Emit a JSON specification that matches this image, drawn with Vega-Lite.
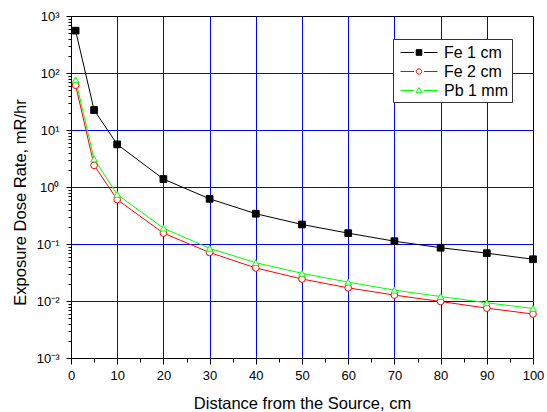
{
  "$schema": "https://vega.github.io/schema/vega-lite/v6.json",
  "width": 462,
  "height": 342,
  "autosize": {"type": "none"},
  "padding": {"left": 71, "top": 16, "right": 14, "bottom": 54},
  "background": "white",
  "config": {
    "font": "Liberation Sans",
    "view": {"stroke": "black", "strokeWidth": 1},
    "axis": {"domainColor": "black", "tickColor": "black", "labelColor": "black", "titleColor": "black", "titleFontWeight": "normal", "gridColor": "#0000ff", "gridWidth": 1}
  },
  "data": {"values": [
    {"x": 1, "y": 553, "series": "Fe 1 cm"},
    {"x": 5, "y": 22.4, "series": "Fe 1 cm"},
    {"x": 10, "y": 5.6, "series": "Fe 1 cm"},
    {"x": 20, "y": 1.38, "series": "Fe 1 cm"},
    {"x": 30, "y": 0.62, "series": "Fe 1 cm"},
    {"x": 40, "y": 0.34, "series": "Fe 1 cm"},
    {"x": 50, "y": 0.22, "series": "Fe 1 cm"},
    {"x": 60, "y": 0.155, "series": "Fe 1 cm"},
    {"x": 70, "y": 0.112, "series": "Fe 1 cm"},
    {"x": 80, "y": 0.086, "series": "Fe 1 cm"},
    {"x": 90, "y": 0.069, "series": "Fe 1 cm"},
    {"x": 100, "y": 0.054, "series": "Fe 1 cm"},
    {"x": 1, "y": 61, "series": "Fe 2 cm"},
    {"x": 5, "y": 2.4, "series": "Fe 2 cm"},
    {"x": 10, "y": 0.6, "series": "Fe 2 cm"},
    {"x": 20, "y": 0.155, "series": "Fe 2 cm"},
    {"x": 30, "y": 0.071, "series": "Fe 2 cm"},
    {"x": 40, "y": 0.038, "series": "Fe 2 cm"},
    {"x": 50, "y": 0.0243, "series": "Fe 2 cm"},
    {"x": 60, "y": 0.017, "series": "Fe 2 cm"},
    {"x": 70, "y": 0.0127, "series": "Fe 2 cm"},
    {"x": 80, "y": 0.0098, "series": "Fe 2 cm"},
    {"x": 90, "y": 0.0075, "series": "Fe 2 cm"},
    {"x": 100, "y": 0.0059, "series": "Fe 2 cm"},
    {"x": 1, "y": 76, "series": "Pb 1 mm"},
    {"x": 5, "y": 3.1, "series": "Pb 1 mm"},
    {"x": 10, "y": 0.74, "series": "Pb 1 mm"},
    {"x": 20, "y": 0.19, "series": "Pb 1 mm"},
    {"x": 30, "y": 0.084, "series": "Pb 1 mm"},
    {"x": 40, "y": 0.047, "series": "Pb 1 mm"},
    {"x": 50, "y": 0.0306, "series": "Pb 1 mm"},
    {"x": 60, "y": 0.0214, "series": "Pb 1 mm"},
    {"x": 70, "y": 0.0155, "series": "Pb 1 mm"},
    {"x": 80, "y": 0.012, "series": "Pb 1 mm"},
    {"x": 90, "y": 0.0093, "series": "Pb 1 mm"},
    {"x": 100, "y": 0.0074, "series": "Pb 1 mm"}
  ]},
  "encoding": {
    "x": {
      "field": "x", "type": "quantitative",
      "scale": {"domain": [0, 100], "nice": false, "zero": false},
      "axis": {
        "title": "Distance from the Source, cm",
        "titleFontSize": 16.5, "titleX": 231, "titleY": 50, "titleBaseline": "alphabetic", "titleAnchor": null,
        "values": [0, 5, 10, 15, 20, 25, 30, 35, 40, 45, 50, 55, 60, 65, 70, 75, 80, 85, 90, 95, 100],
        "labelExpr": "datum.value % 10 == 0 ? datum.label : ''",
        "labelFontSize": 13, "labelPadding": 5, "labelFlush": false, "labelOverlap": false,
        "tickSize": {"condition": {"test": "datum.value % 10 == 0", "value": 6}, "value": 4},
        "grid": true,
        "gridOpacity": {"condition": {"test": "datum.value % 10 == 0 && datum.value > 0 && datum.value < 100", "value": 1}, "value": 0}
      }
    },
    "y": {
      "field": "y", "type": "quantitative",
      "scale": {"type": "log", "domain": [0.001, 1000], "nice": false},
      "axis": {
        "title": "Exposure Dose Rate, mR/hr",
        "titleFontSize": 16.5, "titleX": -46, "titleY": 186, "titleBaseline": "alphabetic", "titleAngle": -90, "titleAnchor": null,
        "values": [0.001, 0.002, 0.003, 0.004, 0.005, 0.006, 0.007, 0.008, 0.009, 0.01, 0.02, 0.03, 0.04, 0.05, 0.06, 0.07, 0.08, 0.09, 0.1, 0.2, 0.3, 0.4, 0.5, 0.6, 0.7, 0.8, 0.9, 1, 2, 3, 4, 5, 6, 7, 8, 9, 10, 20, 30, 40, 50, 60, 70, 80, 90, 100, 200, 300, 400, 500, 600, 700, 800, 900, 1000],
        "labelExpr": "abs(log(datum.value)/LN10 - round(log(datum.value)/LN10)) > 0.001 ? '' : ['10⁻³','10⁻²','10⁻¹','10⁰','10¹','10²','10³'][round(log(datum.value)/LN10) + 3]",
        "labelFontSize": 13, "labelPadding": 7, "labelOverlap": false, "labelBound": false, "labelFlush": false,
        "tickSize": {"condition": {"test": "abs(log(datum.value)/LN10 - round(log(datum.value)/LN10)) < 0.001", "value": 5}, "value": 3},
        "grid": true,
        "gridOpacity": {"condition": {"test": "abs(log(datum.value)/LN10 - round(log(datum.value)/LN10)) < 0.001 && datum.value > 0.0015 && datum.value < 900", "value": 1}, "value": 0}
      }
    }
  },
  "layer": [
    {
      "mark": {"type": "line", "strokeWidth": 1},
      "encoding": {
        "color": {"field": "series", "type": "nominal", "legend": null,
          "scale": {"domain": ["Fe 1 cm", "Fe 2 cm", "Pb 1 mm"], "range": ["#000000", "#ff0000", "#00ff00"]}}
      }
    },
    {
      "mark": {"type": "point", "size": 45, "strokeWidth": 1, "opacity": 1},
      "encoding": {
        "color": {"field": "series", "type": "nominal", "legend": null,
          "scale": {"domain": ["Fe 1 cm", "Fe 2 cm", "Pb 1 mm"], "range": ["#000000", "#ff0000", "#00ff00"]}},
        "shape": {"field": "series", "type": "nominal", "legend": null,
          "scale": {"domain": ["Fe 1 cm", "Fe 2 cm", "Pb 1 mm"], "range": ["square", "circle", "triangle-up"]}},
        "fill": {"field": "series", "type": "nominal", "legend": null,
          "scale": {"domain": ["Fe 1 cm", "Fe 2 cm", "Pb 1 mm"], "range": ["#000000", "#ffffff", "#ffffff"]}}
      }
    },
    {
      "mark": {"type": "point", "size": 45, "strokeWidth": 1, "opacity": 0},
      "encoding": {
        "color": {"field": "series", "type": "nominal",
          "scale": {"domain": ["Fe 1 cm", "Fe 2 cm", "Pb 1 mm"], "range": ["#000000", "#ff0000", "#00ff00"]},
          "legend": {
            "title": null,
            "orient": "none", "legendX": 322, "legendY": 23,
            "padding": 3, "symbolOffset": 12.5, "labelOffset": 14.5,
            "labelFontSize": 16, "labelColor": "black",
            "labelExpr": "datum.label + '\u00a0\u00a0\u00a0'",
            "symbolSize": 400, "symbolStrokeWidth": 1, "symbolOpacity": 1,
            "rowPadding": 0,
            "fillColor": "white", "strokeColor": "#333333",
            "cornerRadius": 0
          }},
        "shape": {"field": "series", "type": "nominal",
          "scale": {"domain": ["Fe 1 cm", "Fe 2 cm", "Pb 1 mm"], "range": [
            "M-1.85,0H-0.5M-0.28,-0.28H0.28V0.28H-0.28ZM0.5,0H1.85",
            "M-1.85,0H-0.5M0.27,0A0.27,0.27,0,1,1,-0.27,0A0.27,0.27,0,1,1,0.27,0ZM0.5,0H1.85",
            "M-1.85,0H-0.5M0,-0.3L0.3,0.22H-0.3ZM0.5,0H1.85"]}},
        "fill": {"field": "series", "type": "nominal",
          "scale": {"domain": ["Fe 1 cm", "Fe 2 cm", "Pb 1 mm"], "range": ["#000000", "#ffffff", "#ffffff"]}}
      }
    }
  ],
  "resolve": {"scale": {"color": "independent", "shape": "independent", "fill": "independent"}}
}
